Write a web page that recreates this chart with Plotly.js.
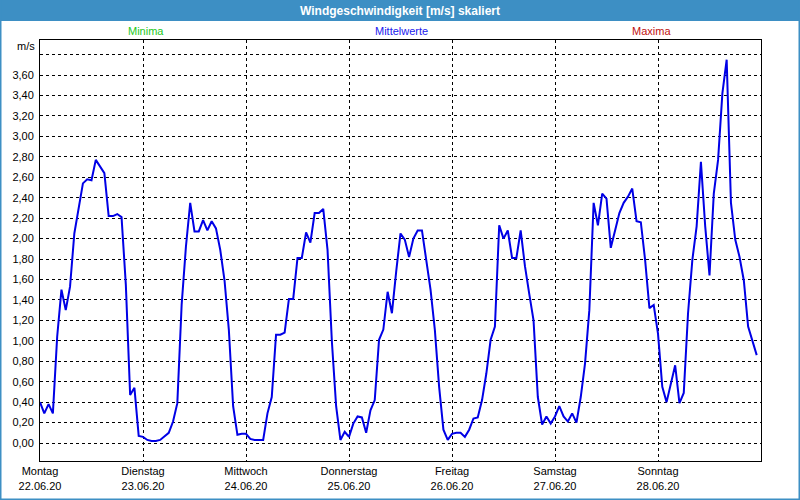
<!DOCTYPE html>
<html>
<head>
<meta charset="utf-8">
<script src="https://cdn.plot.ly/plotly-3.0.1.min.js"></script>
<style>
  html, body { margin: 0; padding: 0; background: #ffffff; }
  #chart { width: 800px; height: 500px; }
</style>
</head>
<body>
<div id="chart"></div>
<script>
// Hourly wind speed (m/s), Monday 22.06.20 00:00 to Sunday 28.06.20 23:00
const windValues = [
  0.40, 0.29, 0.38, 0.29, 1.04, 1.50, 1.30, 1.53, 2.05, 2.28, 2.54, 2.58, 2.57, 2.77, 2.70, 2.64, 2.22, 2.22, 2.24, 2.21, 1.55, 0.47, 0.54, 0.07,
  0.06, 0.03, 0.02, 0.02, 0.03, 0.07, 0.10, 0.21, 0.39, 1.35, 1.92, 2.35, 2.07, 2.07, 2.18, 2.08, 2.17, 2.10, 1.89, 1.59, 1.11, 0.36, 0.08, 0.09,
  0.09, 0.04, 0.03, 0.03, 0.03, 0.29, 0.45, 1.06, 1.06, 1.08, 1.41, 1.41, 1.81, 1.81, 2.06, 1.96, 2.25, 2.25, 2.29, 1.89, 1.00, 0.36, 0.03, 0.11,
  0.06, 0.19, 0.26, 0.25, 0.10, 0.32, 0.42, 1.01, 1.11, 1.48, 1.27, 1.68, 2.05, 1.99, 1.82, 2.00, 2.08, 2.08, 1.81, 1.50, 1.11, 0.55, 0.13, 0.03,
  0.09, 0.10, 0.10, 0.06, 0.13, 0.24, 0.25, 0.42, 0.68, 1.01, 1.14, 2.13, 2.00, 2.08, 1.81, 1.81, 2.08, 1.73, 1.46, 1.20, 0.45, 0.18, 0.26, 0.19,
  0.26, 0.36, 0.26, 0.21, 0.29, 0.20, 0.45, 0.78, 1.30, 2.35, 2.13, 2.44, 2.39, 1.91, 2.08, 2.25, 2.35, 2.41, 2.49, 2.17, 2.16, 1.79, 1.32, 1.35,
  1.07, 0.55, 0.40, 0.58, 0.76, 0.39, 0.49, 1.27, 1.79, 2.12, 2.75, 2.12, 1.64, 2.44, 2.77, 3.42, 3.75, 2.35, 1.99, 1.82, 1.59, 1.14, 0.99, 0.86
];
const dayNames = ["Montag", "Dienstag", "Mittwoch", "Donnerstag", "Freitag", "Samstag", "Sonntag"];
const dayDates = ["22.06.20", "23.06.20", "24.06.20", "25.06.20", "26.06.20", "27.06.20", "28.06.20"];
const yTickValues = [0, 0.2, 0.4, 0.6, 0.8, 1.0, 1.2, 1.4, 1.6, 1.8, 2.0, 2.2, 2.4, 2.6, 2.8, 3.0, 3.2, 3.4, 3.6, 3.8];
const yTickLabels = ["0,00","0,20","0,40","0,60","0,80","1,00","1,20","1,40","1,60","1,80","2,00","2,20","2,40","2,60","2,80","3,00","3,20","3,40","3,60",""];
const legendLabels = ["Minima", "Mittelwerte", "Maxima"];
const chartTitle = "Windgeschwindigkeit [m/s] skaliert";
const unitLabel = "m/s";

const hours = windValues.map((v, i) => i);
const dayTicks = dayNames.map((d, i) => i * 24);
const dayTickText = dayNames.map((d, i) => d + "<br>" + dayDates[i]);

const FONT = "Liberation Sans, Arial, sans-serif";
const BLUE_BAR = "#3d8fc4";

const trace = {
  x: hours,
  y: windValues,
  type: "scatter",
  mode: "lines",
  line: { color: "#0000e6", width: 2 },
  hoverinfo: "skip"
};

// paper coords helpers based on plot area: left 40, right 761, top 40, bottom 461
const L = 40, R = 761, T = 40, B = 461;
const px = X => (X - L) / (R - L);
const py = Y => (B - Y) / (B - T);

const layout = {
  width: 800,
  height: 500,
  margin: { l: L, r: 800 - R, t: T, b: 500 - B, pad: 0 },
  paper_bgcolor: "#ffffff",
  plot_bgcolor: "#ffffff",
  showlegend: false,
  font: { family: FONT, size: 11, color: "#000000" },
  title: {
    text: "<b>" + chartTitle + "</b>",
    font: { family: FONT, size: 12, color: "#ffffff" },
    x: 0.5, xanchor: "center",
    y: 1 - 11 / 500, yanchor: "middle", yref: "container"
  },
  xaxis: {
    range: [0, 168],
    tickmode: "array",
    tickvals: dayTicks,
    ticktext: dayTickText,
    ticks: "",
    showgrid: true,
    gridcolor: "#000000",
    gridwidth: 1,
    griddash: "3px,3px",
    showline: true,
    linecolor: "#000000",
    linewidth: 1,
    mirror: true,
    zeroline: false,
    tickfont: { family: FONT, size: 11, color: "#000000" },
    fixedrange: true
  },
  yaxis: {
    range: [-0.176, 3.943],
    tickmode: "array",
    tickvals: yTickValues,
    ticktext: yTickLabels,
    ticks: "outside",
    ticklen: 3,
    tickcolor: "rgba(0,0,0,0)",
    showgrid: true,
    gridcolor: "#000000",
    gridwidth: 1,
    griddash: "3px,3px",
    showline: true,
    linecolor: "#000000",
    linewidth: 1,
    mirror: true,
    zeroline: false,
    tickfont: { family: FONT, size: 11, color: "#000000" },
    fixedrange: true
  },
  shapes: [
    // title bar
    { type: "rect", xref: "paper", yref: "paper", x0: px(0), x1: px(800), y0: py(21), y1: py(0),
      fillcolor: BLUE_BAR, line: { width: 0 }, layer: "below" },
    // window frame: left, right, bottom
    { type: "rect", xref: "paper", yref: "paper", x0: px(0), x1: px(1.5), y0: py(500), y1: py(0),
      fillcolor: BLUE_BAR, line: { width: 0 }, layer: "below" },
    { type: "rect", xref: "paper", yref: "paper", x0: px(798.5), x1: px(800), y0: py(500), y1: py(0),
      fillcolor: BLUE_BAR, line: { width: 0 }, layer: "below" },
    { type: "rect", xref: "paper", yref: "paper", x0: px(0), x1: px(800), y0: py(500), y1: py(498.5),
      fillcolor: BLUE_BAR, line: { width: 0 }, layer: "below" }
  ],
  annotations: [
    { text: legendLabels[0], xref: "paper", yref: "paper", x: px(146), y: py(31), xanchor: "center", yanchor: "middle",
      showarrow: false, font: { family: FONT, size: 11, color: "#22c822" } },
    { text: legendLabels[1], xref: "paper", yref: "paper", x: px(401), y: py(31), xanchor: "center", yanchor: "middle",
      showarrow: false, font: { family: FONT, size: 11, color: "#2020ee" } },
    { text: legendLabels[2], xref: "paper", yref: "paper", x: px(651), y: py(31), xanchor: "center", yanchor: "middle",
      showarrow: false, font: { family: FONT, size: 11, color: "#c01010" } },
    { text: unitLabel, xref: "paper", yref: "paper", x: px(37), y: py(46), xanchor: "right", yanchor: "middle",
      showarrow: false, font: { family: FONT, size: 11, color: "#000000" } }
  ]
};

Plotly.newPlot("chart", [trace], layout, { staticPlot: true, displayModeBar: false });
</script>
</body>
</html>
